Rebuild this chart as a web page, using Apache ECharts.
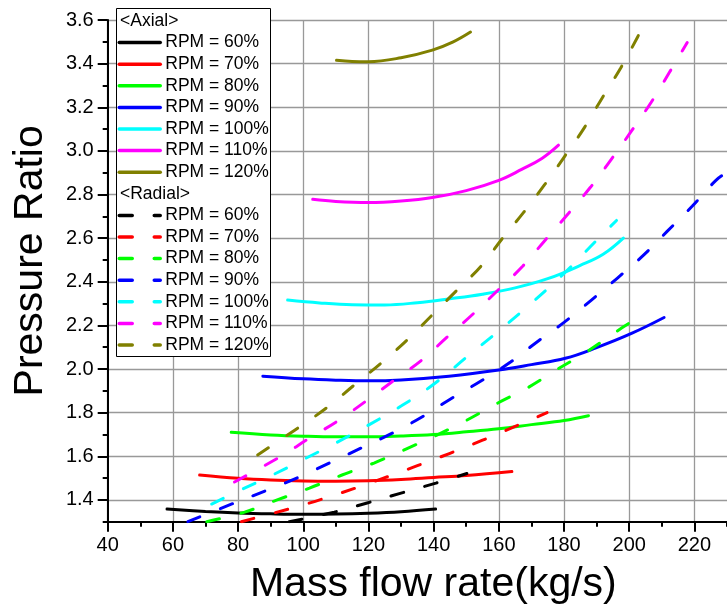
<!DOCTYPE html>
<html>
<head>
<meta charset="utf-8">
<script src="https://cdn.jsdelivr.net/npm/echarts@6/dist/echarts.min.js"></script>
<style>html,body{margin:0;padding:0;background:#fff}#c{width:727px;height:610px}</style>
</head>
<body>
<div id="c"></div>
<script>
// ---- data ----
const rpmLevels = ['60', '70', '80', '90', '100', '110', '120'];
const lineColors = ['#000000', '#ff0000', '#00ff00', '#0000ff', '#00ffff', '#ff00ff', '#808000'];
const yTickValues = [1.4, 1.6, 1.8, 2.0, 2.2, 2.4, 2.6, 2.8, 3.0, 3.2, 3.4, 3.6];
const xTickValues = [40, 60, 80, 100, 120, 140, 160, 180, 200, 220];

// Axial (solid) curves: [mass flow, pressure ratio]
const axial60 = [[58.2,1.358],[70,1.347],[80,1.340],[90,1.336],[100,1.334],[110,1.335],[120,1.339],[130,1.346],[140.6,1.358]];
const axial70 = [[68.2,1.514],[80,1.499],[90,1.491],[100,1.487],[110,1.486],[120,1.488],[130,1.494],[140,1.503],[150,1.512],[164,1.530]];
const axial80 = [[77.9,1.710],[90,1.698],[100,1.692],[110,1.689],[120,1.689],[130,1.693],[140,1.700],[150,1.712],[160,1.726],[170,1.745],[180,1.764],[187.5,1.786]];
const axial90 = [[87.6,1.967],[100,1.955],[110,1.949],[120,1.946],[130,1.950],[144.7,1.967],[160,1.995],[170,2.020],[180.4,2.049],[190,2.098],[200.7,2.163],[210.7,2.236]];
const axial100 = [[95.2,2.316],[105,2.303],[115,2.295],[125,2.294],[135,2.304],[145,2.322],[155,2.343],[165,2.372],[175,2.414],[185,2.475],[192,2.526],[198.2,2.600]];
const axial110 = [[102.9,2.778],[110,2.768],[120,2.763],[130,2.770],[139.6,2.786],[150,2.818],[160,2.865],[167,2.915],[173.2,2.965],[178.3,3.026]];
const axial120 = [[110.2,3.415],[115,3.410],[120,3.409],[130,3.427],[139.6,3.462],[146,3.500],[151.3,3.545]];

// Radial (dashed) curves
const radial60 = [[95.7,1.300],[109.5,1.344],[119.6,1.386],[130,1.431],[140.7,1.477],[150.2,1.521]];
const radial70 = [[81,1.300],[90,1.336],[100,1.377],[110,1.424],[120,1.475],[130,1.529],[140,1.585],[150,1.643],[160,1.705],[170,1.769],[174.8,1.800]];
const radial80 = [[70.4,1.300],[82,1.344],[91.8,1.399],[101.9,1.454],[111.9,1.514],[121.7,1.569],[131.5,1.633],[141,1.697],[150.2,1.766],[159.7,1.844],[169.2,1.917],[178.1,2.000],[186.9,2.078],[195.8,2.169],[201.9,2.229]];
const radial90 = [[64.6,1.300],[78.9,1.386],[89,1.445],[98.8,1.505],[108,1.569],[117.8,1.638],[127.3,1.706],[136.4,1.780],[144.7,1.858],[154.5,1.945],[163.6,2.032],[171.6,2.123],[180.1,2.215],[188.4,2.316],[196.4,2.417],[204.4,2.522],[211.7,2.632],[219.3,2.746],[226.6,2.865],[229.9,2.900]];
const radial100 = [[71.9,1.381],[80,1.440],[90,1.510],[100,1.585],[110,1.661],[120,1.743],[130,1.830],[140,1.930],[150,2.053],[160,2.175],[170,2.302],[180,2.438],[190,2.590],[196.1,2.681]];
const radial110 = [[78.9,1.482],[92.7,1.596],[101.9,1.683],[111,1.766],[119.6,1.857],[127.9,1.949],[136.4,2.041],[144.1,2.146],[152,2.251],[159.7,2.361],[167.3,2.471],[174.4,2.594],[181.4,2.714],[188.1,2.833],[194.5,2.961],[200.6,3.089],[206.7,3.222],[212.3,3.359],[217.8,3.497]];
const radial120 = [[86,1.606],[98.8,1.734],[107.4,1.825],[115.6,1.926],[123.9,2.027],[131.8,2.132],[139.5,2.247],[146.8,2.356],[154.5,2.471],[160.9,2.595],[167.6,2.718],[174.1,2.846],[180.2,2.975],[186.3,3.108],[191.8,3.245],[197.3,3.378],[202.5,3.520],[205.2,3.598]];

const axialData = [axial60, axial70, axial80, axial90, axial100, axial110, axial120];
const radialData = [radial60, radial70, radial80, radial90, radial100, radial110, radial120];

// ---- chart ----
const FONT = "'Liberation Sans', Arial, sans-serif";
const chart = echarts.init(document.getElementById('c'), null, {renderer: 'canvas'});

const series = [];
rpmLevels.forEach((r, i) => {
  series.push({
    name: 'A' + r, type: 'line', data: axialData[i], symbol: 'none', smooth: 0.4,
    xAxisIndex: 0, yAxisIndex: 0, z: 2,
    lineStyle: {color: lineColors[i], width: 3, type: 'solid', cap: 'round'},
    itemStyle: {color: lineColors[i]}
  });
});
rpmLevels.forEach((r, i) => {
  series.push({
    name: 'R' + r, type: 'line', data: radialData[i], symbol: 'none', smooth: 0.4,
    xAxisIndex: 0, yAxisIndex: 0, z: 2,
    lineStyle: {color: lineColors[i], width: 3, type: [13, 22], cap: 'round'},
    itemStyle: {color: lineColors[i]}
  });
});

const legendCommon = {
  orient: 'vertical', left: 117.5, padding: 0, itemGap: 0, itemWidth: 41, itemHeight: 14, z: 6,
  itemStyle: {opacity: 0},
  lineStyle: {width: 3.5, cap: 'round'},
  textStyle: {fontSize: 17.5, color: '#000', fontFamily: FONT, lineHeight: 21.6},
  formatter: name => 'RPM = ' + name.slice(1) + '%'
};

const axisLineStyle = {color: '#000', width: 2};

chart.setOption({
  animation: false,
  backgroundColor: '#fff',
  grid: {left: 107.7, right: -2, top: 20, bottom: 88.3, containLabel: false},
  xAxis: [
    {
      type: 'value', min: 40, max: 230, interval: 10, position: 'bottom',
      axisLine: {show: true, onZero: false, lineStyle: axisLineStyle},
      axisTick: {show: true, inside: false, length: 5, lineStyle: axisLineStyle},
      axisLabel: {show: false}, splitLine: {show: false}
    },
    {
      type: 'value', min: 40, max: 230, position: 'bottom',
      name: 'Mass flow rate(kg/s)', nameLocation: 'middle', nameGap: 42,
      nameTextStyle: {fontSize: 41, color: '#000', fontFamily: FONT, padding: [0, 0, 0, 32]},
      axisLine: {show: false, onZero: false},
      axisTick: {show: true, inside: false, length: 10, lineStyle: axisLineStyle, customValues: xTickValues},
      axisLabel: {show: true, fontSize: 20, color: '#000', fontFamily: FONT, margin: 14, customValues: xTickValues, formatter: v => String(v)},
      splitLine: {show: true, lineStyle: {color: '#999', width: 1.3}}
    }
  ],
  yAxis: [
    {
      type: 'value', min: 1.3, max: 3.6, interval: 0.1, position: 'left',
      axisLine: {show: true, onZero: false, lineStyle: axisLineStyle},
      axisTick: {show: true, inside: false, length: 5, lineStyle: axisLineStyle},
      axisLabel: {show: false}, splitLine: {show: false}
    },
    {
      type: 'value', min: 1.3, max: 3.6, position: 'left',
      name: 'Pressure Ratio', nameLocation: 'middle', nameGap: 57,
      nameTextStyle: {fontSize: 41, color: '#000', fontFamily: FONT, padding: [0, 0, 0, 20]},
      axisLine: {show: false, onZero: false},
      axisTick: {show: true, inside: false, length: 10, lineStyle: axisLineStyle, customValues: yTickValues},
      axisLabel: {show: true, fontSize: 20, color: '#000', fontFamily: FONT, margin: 14, customValues: yTickValues, formatter: v => v.toFixed(1)},
      splitLine: {show: true, lineStyle: {color: '#999', width: 1.3}}
    }
  ],
  legend: [
    Object.assign({}, legendCommon, {top: 31.8, data: rpmLevels.map(r => 'A' + r)}),
    Object.assign({}, legendCommon, {top: 204.6, data: rpmLevels.map(r => 'R' + r)})
  ],
  graphic: [
    {type: 'rect', z: 5, shape: {x: 116.5, y: 8.5, width: 154, height: 348}, style: {fill: '#fff', stroke: '#000', lineWidth: 1}},
    {type: 'text', z: 7, x: 120, y: 21, style: {text: '<Axial>', fontSize: 17.5, fontFamily: FONT, fill: '#000', verticalAlign: 'middle'}},
    {type: 'text', z: 7, x: 120, y: 193.8, style: {text: '<Radial>', fontSize: 17.5, fontFamily: FONT, fill: '#000', verticalAlign: 'middle'}}
  ],
  series: series
});
</script>
</body>
</html>
